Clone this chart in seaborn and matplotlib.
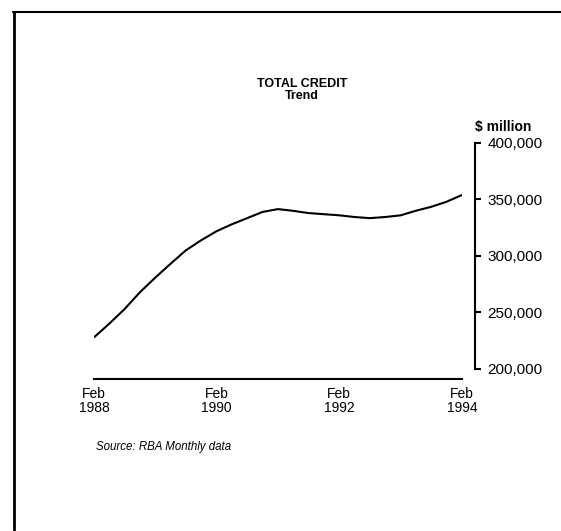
import matplotlib
matplotlib.use("Agg")
import matplotlib.pyplot as plt
import matplotlib.lines as mlines
import seaborn as sns
import pandas as pd

# ---- data ----
months = ["1988-02", "1988-05", "1988-08", "1988-11",
          "1989-02", "1989-05", "1989-08", "1989-11",
          "1990-02", "1990-05", "1990-08", "1990-11",
          "1991-02", "1991-05", "1991-08", "1991-11",
          "1992-02", "1992-05", "1992-08", "1992-11",
          "1993-02", "1993-05", "1993-08", "1993-11",
          "1994-02"]
credit = [228000, 240000, 253000, 268000,
          281000, 293000, 305000, 314000,
          322000, 328000, 333500, 339000,
          341500, 340000, 338000, 337000,
          336000, 334500, 333500, 334500,
          336000, 340000, 343500, 348000,
          354000]
x_tick_dates = ["1988-02", "1990-02", "1992-02", "1994-02"]
x_tick_labels = ["Feb\n1988", "Feb\n1990", "Feb\n1992", "Feb\n1994"]
y_ticks = [200000, 250000, 300000, 350000, 400000]
y_tick_labels = ["200,000", "250,000", "300,000", "350,000", "400,000"]

sns.set_style("white")
plt.rcParams['font.family'] = ['Liberation Sans', 'DejaVu Sans']
plt.rcParams['text.color'] = 'black'
plt.rcParams['xtick.color'] = 'black'
plt.rcParams['ytick.color'] = 'black'
plt.rcParams['xtick.labelcolor'] = 'black'
plt.rcParams['ytick.labelcolor'] = 'black'

df = pd.DataFrame({"date": pd.to_datetime(months), "credit": credit})

W, H = 561, 531
fig = plt.figure(figsize=(W / 100, H / 100), dpi=100)
ax = fig.add_axes([94 / W, (H - 369) / H, (462 - 94) / W, (369 - 143) / H])

sns.lineplot(data=df, x="date", y="credit", ax=ax, color="black", linewidth=1.5)

ax.set_xlim(pd.Timestamp(x_tick_dates[0]), pd.Timestamp(x_tick_dates[-1]))
ax.set_ylim(y_ticks[0], y_ticks[-1])
ax.set_xlabel("")
ax.set_ylabel("")

for s in ["top", "left"]:
    ax.spines[s].set_visible(False)
for s in ["bottom", "right"]:
    ax.spines[s].set_visible(True)
    ax.spines[s].set_color("black")
    ax.spines[s].set_linewidth(1.5)
ax.spines["bottom"].set_position(("outward", 7.2))
ax.spines["right"].set_position(("outward", 9.4))

ax.set_xticks(pd.to_datetime(x_tick_dates))
ax.set_xticklabels(x_tick_labels, fontsize=10, linespacing=1.0)
ax.tick_params(axis="x", direction="in", length=4, width=1.5, color="black", pad=6)

ax.yaxis.tick_right()
ax.set_yticks(y_ticks)
ax.set_yticklabels(y_tick_labels, fontsize=11)
ax.tick_params(axis="y", direction="out", length=4, width=1.5, color="black", pad=5,
               right=True, left=False)

fig.text(302 / W, 1 - 84 / H, "TOTAL CREDIT", ha="center", va="center",
         fontsize=9, fontweight="bold")
fig.text(302 / W, 1 - 96 / H, "Trend", ha="center", va="center",
         fontsize=9, fontweight="bold")
fig.text(475 / W, 1 - 127 / H, "$ million", ha="left", va="center",
         fontsize=10, fontweight="bold")
fig.text(96 / W, 1 - 447 / H, "Source: RBA Monthly data", ha="left", va="center",
         fontsize=8.3, style="italic")

# page frame
fig.add_artist(mlines.Line2D([14 / W, 14 / W], [1 - 12 / H, 1 - 530 / H],
                             transform=fig.transFigure, color="black", lw=2))
fig.add_artist(mlines.Line2D([13 / W, 1.0], [1 - 12 / H, 1 - 12 / H],
                             transform=fig.transFigure, color="black", lw=1.5))

fig.savefig("out.png", dpi=100)
